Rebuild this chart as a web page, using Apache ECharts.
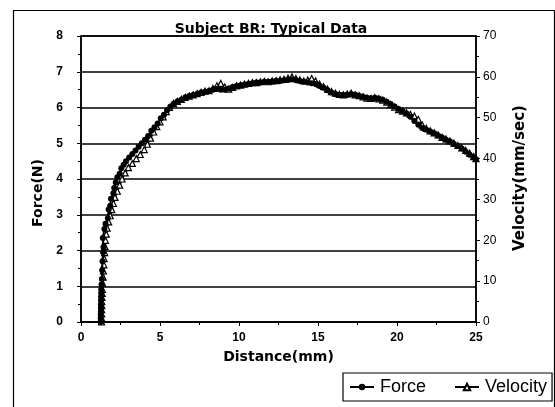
<!DOCTYPE html>
<html><head><meta charset="utf-8">
<script src="https://cdn.jsdelivr.net/npm/echarts@6/dist/echarts.min.js"></script>
<style>html,body{margin:0;padding:0;background:#fff}#c{width:555px;height:407px}</style>
</head><body><div id="c"></div>
<script>
const titleText = 'Subject BR: Typical Data';
const xName = 'Distance(mm)';
const yLeftName = 'Force(N)';
const yRightName = 'Velocity(mm/sec)';
const legendNames = ['Force', 'Velocity'];

const forceDist = [1.25,1.25,1.25,1.26,1.26,1.26,1.27,1.27,1.28,1.28,1.30,1.32,1.34,1.36,1.40,1.42,1.38,1.48,1.55,1.70,1.75,1.85,1.90,2.05,2.10,2.20,2.30,2.45,2.55,2.70,2.85,3.05,3.25,3.45,3.65,3.85,4.05,4.25,4.45,4.65,4.85,5.05,5.25,5.45,5.65,5.85,6.10,6.35,6.60,6.85,7.10,7.35,7.60,7.85,8.10,8.35,8.60,8.85,9.10,9.35,9.60,9.85,10.1,10.35,10.6,10.85,11.1,11.35,11.6,11.85,12.1,12.35,12.6,12.85,13.1,13.35,13.6,13.85,14.1,14.35,14.6,14.85,15.1,15.35,15.6,15.85,16.1,16.35,16.6,16.85,17.1,17.35,17.6,17.85,18.1,18.35,18.6,18.85,19.1,19.35,19.6,19.85,20.1,20.35,20.6,20.85,21.1,21.35,21.6,21.85,22.1,22.35,22.6,22.85,23.1,23.35,23.6,23.85,24.1,24.35,24.6,24.85,25.0];
const forceVals = [0.0,0.1,0.2,0.3,0.4,0.5,0.6,0.7,0.8,0.9,1.05,1.2,1.45,1.7,1.95,2.1,2.35,2.6,2.75,2.9,3.15,3.25,3.45,3.6,3.75,3.9,4.05,4.15,4.3,4.4,4.5,4.6,4.7,4.8,4.9,5.0,5.1,5.2,5.35,5.45,5.55,5.7,5.8,5.92,6.02,6.1,6.17,6.22,6.28,6.32,6.35,6.38,6.42,6.44,6.46,6.5,6.52,6.5,6.5,6.53,6.57,6.6,6.62,6.64,6.66,6.68,6.7,6.7,6.72,6.72,6.73,6.75,6.74,6.76,6.77,6.78,6.76,6.74,6.72,6.7,6.68,6.66,6.6,6.55,6.48,6.42,6.38,6.36,6.35,6.36,6.38,6.36,6.33,6.3,6.27,6.26,6.27,6.25,6.22,6.16,6.1,6.03,5.96,5.9,5.83,5.74,5.62,5.52,5.43,5.38,5.33,5.28,5.22,5.16,5.1,5.05,4.98,4.92,4.85,4.76,4.68,4.6,4.55];

const velDist = [1.30,1.30,1.31,1.31,1.32,1.32,1.33,1.34,1.35,1.37,1.40,1.42,1.45,1.47,1.50,1.52,1.55,1.60,1.65,1.75,1.85,1.95,2.05,2.15,2.30,2.45,2.60,2.80,3.00,3.25,3.50,3.75,4.00,4.20,4.40,4.60,4.80,5.00,5.20,5.40,5.60,5.85,6.10,6.35,6.60,6.85,7.10,7.35,7.60,7.85,8.10,8.35,8.60,8.85,9.10,9.35,9.60,9.85,10.1,10.35,10.6,10.85,11.1,11.35,11.6,11.85,12.1,12.35,12.6,12.85,13.1,13.35,13.6,13.85,14.1,14.35,14.6,14.85,15.1,15.35,15.6,15.85,16.1,16.35,16.6,16.85,17.1,17.35,17.6,17.85,18.1,18.35,18.6,18.85,19.1,19.35,19.6,19.85,20.1,20.35,20.6,20.85,21.1,21.35,21.6,21.85,22.1,22.35,22.6,22.85,23.1,23.35,23.6,23.85,24.1,24.35,24.6,24.85,25.0];
const velVals = [0,1,2,3,4,5,6,7,8,9.5,11,12.5,14,15.5,17,18.5,20,21.5,23,24.5,26,27.5,29,30.5,32,33.5,35,36.5,37.8,38.8,40,41,42.2,43.5,45,46.5,47.8,49,50.2,51.5,52.5,53.5,54,54.5,55,55.3,55.6,55.9,56.2,56.5,56.6,57.2,57.8,58.4,57.5,57.0,57.4,57.8,58.0,58.2,58.4,58.6,58.6,58.8,58.9,58.8,59.0,59.1,59.3,59.4,59.7,60.0,59.6,59.3,59.0,59.2,59.6,59.0,58.2,57.6,57.0,56.4,56.0,55.7,55.6,55.8,56.0,55.6,55.4,55.1,54.8,54.7,54.9,54.6,54.3,53.8,53.2,52.6,52.0,51.6,51.2,50.8,50.4,49.6,48.2,47.4,46.8,46.3,45.8,45.2,44.8,44.3,43.8,43.2,42.6,42.0,41.3,40.5,40.0];

const FONT = '"Liberation Sans", Arial, sans-serif';
const HFONT = '"DejaVu Sans", "Liberation Sans", sans-serif';
const chart = echarts.init(document.getElementById('c'), null, {renderer: 'canvas'});
const forceData = forceDist.map((d, i) => [d, forceVals[i]]);
const velData = velDist.map((d, i) => [d, velVals[i]]);

chart.setOption({
  animation: false,
  backgroundColor: '#fff',
  textStyle: {fontFamily: FONT, color: '#000'},
  title: {text: titleText, left: 266, top: 17, textAlign: 'center',
    textStyle: {fontFamily: HFONT, fontSize: 14, fontWeight: 'bold', color: '#000'}},
  grid: {left: 81, right: 79, top: 36, bottom: 85, containLabel: false,
    show: true, borderColor: '#000', borderWidth: 1.5, backgroundColor: 'transparent'},
  legend: {
    data: legendNames, left: 343, top: 373,
    backgroundColor: '#fff', borderColor: '#000', borderWidth: 1.2,
    padding: [5, 5, 5, 6], itemGap: 28, itemWidth: 24, itemHeight: 8,
    textStyle: {fontFamily: FONT, fontSize: 18, color: '#000', padding: [0, 0, 0, 1]}
  },
  xAxis: {
    type: 'value', min: 0, max: 25, interval: 5,
    name: xName, nameLocation: 'middle', nameGap: 28,
    nameTextStyle: {fontFamily: HFONT, fontSize: 14, fontWeight: 'bold', color: '#000'},
    axisLine: {show: true, lineStyle: {color: '#000', width: 1.5}},
    axisTick: {show: true, length: 4, lineStyle: {color: '#000'}},
    minorTick: {show: true, splitNumber: 2, length: 3, lineStyle: {color: '#000'}},
    axisLabel: {fontFamily: FONT, fontSize: 12, color: '#000', margin: 10, fontWeight: 'bold'},
    splitLine: {show: false}
  },
  yAxis: [{
    type: 'value', min: 0, max: 8, interval: 1, position: 'left',
    axisLine: {show: true, lineStyle: {color: '#000', width: 1.5}},
    axisTick: {show: true, length: 4, lineStyle: {color: '#000'}},
    minorTick: {show: true, splitNumber: 2, length: 3, lineStyle: {color: '#000'}},
    axisLabel: {fontFamily: FONT, fontSize: 12, color: '#000', margin: 18, fontWeight: 'bold'},
    splitLine: {show: true, lineStyle: {color: '#000', width: 1.5}}
  }, {
    type: 'value', min: 0, max: 70, interval: 10, position: 'right',
    axisLine: {show: true, lineStyle: {color: '#000', width: 1.5}},
    axisTick: {show: true, length: 4, lineStyle: {color: '#000'}},
    minorTick: {show: true, splitNumber: 2, length: 3, lineStyle: {color: '#000'}},
    axisLabel: {fontFamily: FONT, fontSize: 12, color: '#000', margin: 7},
    splitLine: {show: false}
  }],
  graphic: [
    {type: 'rect', left: 11, top: 8, z: -10, silent: true,
      shape: {width: 541, height: 420}, style: {fill: 'none', stroke: '#000', lineWidth: 1.2}},
    {type: 'text', x: 38, y: 193, rotation: Math.PI / 2, z: 10,
      style: {text: yLeftName, font: 'bold 14px ' + HFONT, fill: '#000', align: 'center', verticalAlign: 'middle'}},
    {type: 'text', x: 520, y: 178, rotation: Math.PI / 2, z: 10,
      style: {text: yRightName, font: 'bold 15px ' + HFONT, fill: '#000', align: 'center', verticalAlign: 'middle'}}
  ],
  series: [{
    name: legendNames[1], type: 'line', yAxisIndex: 1, data: velData, z: 2,
    symbol: 'triangle', symbolSize: 6, showAllSymbol: true,
    lineStyle: {color: '#000', width: 2}, itemStyle: {color: '#fff', borderColor: '#000', borderWidth: 1.2}
  }, {
    name: legendNames[0], type: 'line', yAxisIndex: 0, data: forceData, z: 3,
    symbol: 'circle', symbolSize: 6, showAllSymbol: true,
    lineStyle: {color: '#000', width: 2}, itemStyle: {color: '#000'}
  }]
});
</script></body></html>
